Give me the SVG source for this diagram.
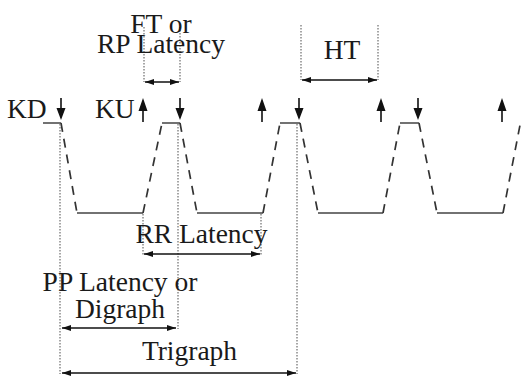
<svg xmlns="http://www.w3.org/2000/svg" width="521" height="379" viewBox="0 0 521 379">
<defs>
<marker id="ah" viewBox="0 0 9 6" refX="9" refY="3" markerWidth="9" markerHeight="6" markerUnits="userSpaceOnUse" orient="auto-start-reverse">
<path d="M0,0 L9,3 L0,6 z" fill="#111"/>
</marker>
<path id="down" d="M-0.8,-22 H0.8 V-12 H4.5 L0,0 L-4.5,-12 H-0.8 Z" fill="#111"/>
<path id="up" d="M-0.8,24 H0.8 V13 H4.5 L0,0 L-4.5,13 H-0.8 Z" fill="#111"/>
</defs>
<style>
.t{font-family:"Liberation Serif","Times New Roman",serif;font-size:27.5px;fill:#1a1a1a}
.m{text-anchor:middle}
.solid{stroke:#444;stroke-width:1.7;fill:none}
.dash{stroke:#333;stroke-width:1.7;fill:none;stroke-dasharray:9 7}
.dot{stroke:#777;stroke-width:1.3;fill:none;stroke-dasharray:1.5 1.5}
.dim{stroke:#111;stroke-width:1.4;fill:none;marker-start:url(#ah);marker-end:url(#ah)}
</style>
<rect width="521" height="379" fill="#fff"/>
<g id="waveform">
<path class="solid" d="M43,123 H61 M162,123 H180 M280,123 H300 M400,123 H419 M77,213 H143 M197,213 H263 M318,213 H383 M437,213 H503"/>
<path class="dash" d="M61,123 L77,213 M143,213 L162,123 M180,123 L197,213 M263,213 L280,123 M300,123 L318,213 M383,213 L400,123 M419,123 L437,213 M503,213 L521,120"/>
</g>
<g id="key-arrows">
<use href="#down" x="61" y="120"/>
<use href="#down" x="180" y="120"/>
<use href="#down" x="299" y="120"/>
<use href="#down" x="418" y="120"/>
<use href="#up" x="143" y="98"/>
<use href="#up" x="262" y="98"/>
<use href="#up" x="381" y="98"/>
<use href="#up" x="502" y="98"/>
</g>
<g id="guides">
<line class="dot" x1="60" y1="124" x2="60" y2="374"/>
<line class="dot" x1="178" y1="124" x2="178" y2="329"/>
<line class="dot" x1="297" y1="124" x2="297" y2="374"/>
<line class="dot" x1="143" y1="214" x2="143" y2="255"/>
<line class="dot" x1="261" y1="214" x2="261" y2="255"/>
<line class="dot" x1="144" y1="27" x2="144" y2="82"/>
<line class="dot" x1="180" y1="27" x2="180" y2="82"/>
<line class="dot" x1="301" y1="25" x2="301" y2="80"/>
<line class="dot" x1="378" y1="25" x2="378" y2="80"/>
</g>
<g id="connectors">
<line class="dim" x1="145" y1="82" x2="179" y2="82"/>
<line class="dim" x1="302" y1="80" x2="377" y2="80"/>
<line class="dim" x1="144" y1="254" x2="260" y2="254"/>
<line class="dim" x1="62" y1="328" x2="176" y2="328"/>
<line class="dim" x1="62" y1="373" x2="296" y2="373"/>
</g>
<g id="labels">
<text class="t m" x="161" y="33">FT or</text>
<text class="t m" x="161" y="53">RP Latency</text>
<text class="t" x="7" y="118">KD</text>
<text class="t" x="95" y="118">KU</text>
<text class="t m" x="342" y="59">HT</text>
<text class="t m" x="201.5" y="243">RR Latency</text>
<text class="t m" x="120" y="291">PP Latency or</text>
<text class="t m" x="120" y="318">Digraph</text>
<text class="t m" x="189.5" y="360">Trigraph</text>
</g>
</svg>
